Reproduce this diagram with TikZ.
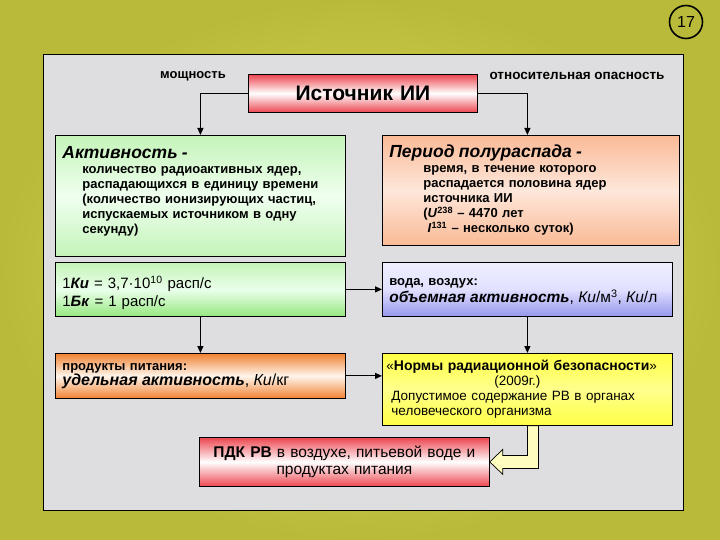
\documentclass[tikz,border=0pt]{standalone}
\usepackage{fontspec}
\setmainfont{Liberation Sans}
\usetikzlibrary{arrows.meta,calc}
\newcommand{\fs}[2]{\fontsize{#1bp}{#2bp}\selectfont}
\newcommand{\inda}{\hspace*{20bp}}
\newcommand{\indb}{\hspace*{34bp}}
\definecolor{bgin}{RGB}{224,222,92}
\definecolor{bgout}{RGB}{186,186,58}
\definecolor{panelgray}{RGB}{222,222,224}
\definecolor{redbox}{RGB}{236,70,80}
\definecolor{greentop}{RGB}{196,244,184}
\definecolor{greenbot}{RGB}{150,232,128}
\definecolor{peach}{RGB}{250,186,150}
\definecolor{orangebox}{RGB}{240,130,50}
\definecolor{bluebot}{RGB}{150,150,236}
\definecolor{yellowbox}{RGB}{255,255,70}

\begin{document}
\begin{tikzpicture}[x=1bp,y=-1bp,
  card/.style={draw=black, line width=0.8bp, anchor=north west, inner xsep=7bp,
    inner ysep=3bp, align=left, font=\bfseries\fs{13}{15}},
  redcard/.style={card, top color=redbox, bottom color=redbox, middle color=white},
  link/.style={-{Triangle[length=7bp,width=6bp]}, line width=1.1bp},
  blockarrow/.style={draw=black, line width=0.7bp, fill=yellow!25},
  ]
  \useasboundingbox (0,0) rectangle (720,540);
  \shade[inner color=bgin, outer color=bgout] (0,0) rectangle (720,540);
  \draw[line width=0.8bp, fill=panelgray] (43,54) rectangle (683,510);

  \node[circle, draw=black, line width=1.6bp, minimum size=33bp, font=\fs{16}{18}] (pg) at (686,22) {17};

  % top row
  \node[font=\bfseries\fs{13}{15}] (pow) at (193,76) {мощность};
  \node[font=\bfseries\fs{13.5}{15}] (risk) at (577,76) {относительная опасность};
  \node[redcard, text width=215bp, minimum height=38bp, align=center, font=\bfseries\fs{21}{24}] (src) at (248,74) {Источник ИИ};

  % definitions
  \node[card, text width=276bp, minimum height=121bp, top color=greentop, bottom color=greentop, middle color=green!6] (act) at (55,135)
    {{\itshape\fs{17.5}{20}Активность -}\\
     \inda количество радиоактивных ядер,\\
     \inda распадающихся в единицу времени\\
     \inda (количество ионизирующих частиц,\\
     \inda испускаемых источником в одну\\
     \inda секунду)\\[-4bp]\mbox{}};
  \node[card, text width=283bp, minimum height=110bp, top color=peach, bottom color=peach, middle color=peach!35] (per) at (382,135)
    {{\itshape\fs{17.5}{20}Период полураспада -}\\
     \indb время, в течение которого\\
     \indb распадается половина ядер\\
     \indb источника ИИ\\
     \indb (\textit{U}\textsuperscript{238} – 4470 лет\\
     \indb\ \textit{I}\textsuperscript{131} – несколько суток)};

  % units
  \node[card, text width=276bp, minimum height=54bp, text depth=14bp, font=\fs{15}{18}, top color=greentop, bottom color=greenbot, middle color=green!8] (ku) at (55,262)
    {1\textbf{\textit{Ки}} = 3,7·10\textsuperscript{10} расп/с\\
     1\textbf{\textit{Бк}} = 1 расп/с};
  \node[card, text width=276bp, minimum height=54bp, text depth=14bp, top color=blue!6, bottom color=bluebot, middle color=blue!12] (voda) at (382,262)
    {вода, воздух:\\
     {\itshape\fs{15.5}{19}объемная активность}{\mdseries\fs{15.5}{19}, \textit{Ки}/м\textsuperscript{3}, \textit{Ки}/л}};
  \node[card, text width=276bp, minimum height=45bp, top color=orangebox, bottom color=orangebox, middle color=orange!8] (prod) at (55,353)
    {продукты питания:\\
     {\itshape\fs{16}{18}удельная активность}{\mdseries\fs{16}{18}, \textit{Ки}/кг}};
  \node[card, text width=276bp, minimum height=72bp, font=\fs{13.5}{15}, top color=yellowbox, bottom color=yellowbox, middle color=yellow!45] (norm) at (382,353)
    {\hspace*{-3bp}«{\fs{14}{15}\textbf{Нормы радиационной безопасности}}»\\
     \hspace*{105bp}(2009г.)\\
     \hspace*{2bp}Допустимое содержание РВ в органах\\
     \hspace*{2bp}человеческого организма};
  \node[redcard, text width=276bp, minimum height=49bp, align=center, font=\fs{15.5}{16.5}] (pdk) at (199,437)
    {\textbf{ПДК РВ} в воздухе, питьевой воде и\\ продуктах питания};

  % connectors
  \draw[link] (src.west) -| (act.north);
  \draw[link] (src.east) -| (voda.north |- per.north);
  \draw[link] (ku.east) -- (voda.west);
  \draw[link] (ku.south) -- (prod.north);
  \draw[link] (voda.south) -- (norm.north);
  \draw[link] (prod.east) -- (prod.east -| norm.west);
  \draw[blockarrow] (norm.south) -- ++(11,0) |- ($(pdk.east)+(13,6.5)$) -- ++(0,6)
    -- (pdk.east) -- ++(13,-12.5) -- ++(0,6) -| (norm.south) -- cycle;
\end{tikzpicture}
\end{document}
